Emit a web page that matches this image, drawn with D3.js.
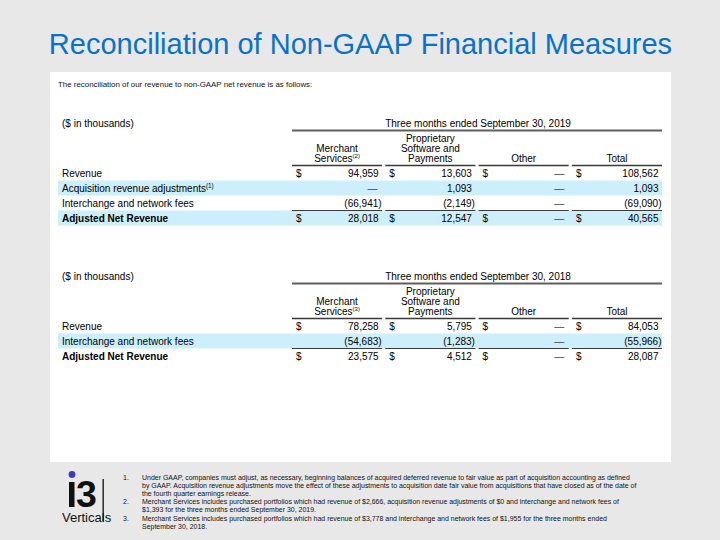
<!DOCTYPE html>
<html><head><meta charset="utf-8">
<script src="https://cdn.jsdelivr.net/npm/d3@7"></script>
<style>
html,body{margin:0;padding:0;background:#e8e8e8;}
svg{display:block;font-family:"Liberation Sans",Arial,Helvetica,sans-serif;}
</style></head>
<body>
<svg id="chart" width="720" height="540"></svg>
<script>
// ---------------- data ----------------
const title = "Reconciliation of Non-GAAP Financial Measures";
const intro = "The reconciliation of our revenue to non-GAAP net revenue is as follows:";
const unitsLabel = "($ in thousands)";
const columns = ["Merchant Services", "Proprietary Software and Payments", "Other", "Total"];
const headerLines = [["Merchant", "Services"], ["Proprietary", "Software and", "Payments"], ["Other"], ["Total"]];
const headerNotes2019 = ["2", null, null, null];
const headerNotes2018 = ["3", null, null, null];
const periods = ["Three months ended September 30, 2019", "Three months ended September 30, 2018"];

const rowLabels2019 = ["Revenue", "Acquisition revenue adjustments", "Interchange and network fees", "Adjusted Net Revenue"];
const rowNotes2019 = [null, "1", null, null];
const merchant2019 = [94959, 0, -66941, 28018];
const proprietary2019 = [13603, 1093, -2149, 12547];
const other2019 = [0, 0, 0, 0];
const total2019 = [108562, 1093, -69090, 40565];
const highlight2019 = [1, 3];

const rowLabels2018 = ["Revenue", "Interchange and network fees", "Adjusted Net Revenue"];
const rowNotes2018 = [null, null, null];
const merchant2018 = [78258, -54683, 23575];
const proprietary2018 = [5795, -1283, 4512];
const other2018 = [0, 0, 0];
const total2018 = [84053, -55966, 28087];
const highlight2018 = [1];

const footnoteNumbers = ["1.", "2.", "3."];
const footnoteLines = [
  ["Under GAAP, companies must adjust, as necessary, beginning balances of acquired deferred revenue to fair value as part of acquisition accounting as defined",
   "by GAAP. Acquisition revenue adjustments move the effect of these adjustments to acquisition date fair value from acquisitions that have closed as of the date of",
   "the fourth quarter earnings release."],
  ["Merchant Services includes purchased portfolios which had revenue of $2,666, acquisition revenue adjustments of $0 and interchange and network fees of",
   "$1,393 for the three months ended September 30, 2019."],
  ["Merchant Services includes purchased portfolios which had revenue of $3,778 and interchange and network fees of $1,955 for the three months ended",
   "September 30, 2018."]
];

// ---------------- drawing ----------------
const svg = d3.select("#chart");
svg.append("rect").attr("width", 720).attr("height", 540).attr("fill", "#e8e8e8");
svg.append("rect").attr("x", 50).attr("y", 72).attr("width", 621).attr("height", 390).attr("fill", "#ffffff");

svg.append("text").attr("x", 360.5).attr("y", 54).attr("text-anchor", "middle")
  .attr("font-size", 29).attr("fill", "#0a72c6").text(title);

svg.append("text").attr("x", 58).attr("y", 87).attr("font-size", 7.9).attr("fill", "#111").text(intro);

const fmt = d3.format(",");
const xCol = d3.scaleBand().domain(columns).range([292, 662]).paddingInner(0.034).paddingOuter(0);

function drawTable(offset, period, headerNotes, labels, notes, series, highlight) {
  const g = svg.append("g").attr("transform", `translate(0,${offset})`);
  const n = labels.length;
  const yRow = d3.scaleBand().domain(d3.range(n)).range([165.5, 165.5 + 15 * n]).padding(0);

  // highlight bands
  g.selectAll("rect.hl").data(highlight).join("rect").attr("class", "hl")
    .attr("x", 58).attr("width", 604).attr("y", d => yRow(d)).attr("height", yRow.bandwidth())
    .attr("fill", "#cdeefb");

  g.append("text").attr("x", 62).attr("y", 127).attr("font-size", 10).attr("fill", "#000").text(unitsLabel);
  g.append("text").attr("x", (xCol.range()[0] + xCol.range()[1]) / 2 + 1).attr("y", 127)
    .attr("text-anchor", "middle").attr("font-size", 10).attr("fill", "#000").text(period);
  g.append("line").attr("x1", xCol.range()[0]).attr("x2", xCol.range()[1]).attr("y1", 130.5).attr("y2", 130.5)
    .attr("stroke", "#5f5f5f").attr("stroke-width", 2);

  // headers
  columns.forEach((c, i) => {
    const lines = headerLines[i];
    const cx = xCol(c) + xCol.bandwidth() / 2;
    lines.forEach((ln, j) => {
      const base = 161.5 - (lines.length - 1 - j) * 9.6;
      const t = g.append("text").attr("x", cx).attr("y", base).attr("text-anchor", "middle")
        .attr("font-size", 10).attr("fill", "#000");
      t.append("tspan").text(ln);
      if (j === lines.length - 1 && headerNotes[i]) {
        t.append("tspan").attr("font-size", 6).attr("dy", -3.5).text(`(${headerNotes[i]})`);
      }
    });
    g.append("line").attr("x1", xCol(c)).attr("x2", xCol(c) + xCol.bandwidth())
      .attr("y1", 165.5).attr("y2", 165.5).attr("stroke", "#3a3a3a").attr("stroke-width", 1.3);
    g.append("line").attr("x1", xCol(c)).attr("x2", xCol(c) + xCol.bandwidth())
      .attr("y1", yRow(n - 1)).attr("y2", yRow(n - 1)).attr("stroke", "#3a3a3a").attr("stroke-width", 1.1);
  });

  // row labels
  labels.forEach((lab, r) => {
    const t = g.append("text").attr("x", 62).attr("y", yRow(r) + 11).attr("font-size", 10).attr("fill", "#000")
      .attr("font-weight", r === n - 1 ? "bold" : "normal");
    t.append("tspan").text(lab);
    if (notes[r]) t.append("tspan").attr("font-size", 6.3).attr("dy", -4).text(`(${notes[r]})`);
  });

  // values
  columns.forEach((c, i) => {
    const vals = series[i];
    const right = xCol(c) + xCol.bandwidth();
    vals.forEach((v, r) => {
      const y = yRow(r) + 11;
      if (r === 0 || r === n - 1) {
        g.append("text").attr("x", xCol(c) + 4).attr("y", y).attr("font-size", 10).attr("fill", "#000").text("$");
      }
      let s, xr, col = "#000";
      if (v === 0) { s = "\u2014"; xr = right - 4.5; col = "#444"; }
      else if (v < 0) { s = "(" + fmt(-v) + ")"; xr = right - 0.5; }
      else { s = fmt(v); xr = right - 3.5; }
      g.append("text").attr("x", xr).attr("y", y).attr("text-anchor", "end").attr("font-size", 10)
        .attr("fill", col).text(s);
    });
  });
}

drawTable(0, periods[0], headerNotes2019, rowLabels2019, rowNotes2019,
  [merchant2019, proprietary2019, other2019, total2019], highlight2019);
drawTable(153, periods[1], headerNotes2018, rowLabels2018, rowNotes2018,
  [merchant2018, proprietary2018, other2018, total2018], highlight2018);

// ---------------- logo ----------------
const logo = svg.append("g");
logo.append("circle").attr("cx", 72).attr("cy", 474.5).attr("r", 3.4).attr("fill", "#3a3cc4");
logo.append("rect").attr("x", 69).attr("y", 482).attr("width", 5.5).attr("height", 25).attr("fill", "#111");
logo.append("text").attr("x", 76).attr("y", 507).attr("font-size", 37.5).attr("font-weight", "bold")
  .attr("fill", "#111").text("3");
const vt = logo.append("text").attr("x", 62).attr("y", 521.5).attr("font-size", 13).attr("fill", "#111").text("Verticals");
let lx = 103;
try { const p = vt.node().getStartPositionOfChar(7); const e = vt.node().getEndPositionOfChar(7); lx = (p.x + e.x) / 2; } catch (e) {}
logo.append("line").attr("x1", lx).attr("x2", lx).attr("y1", 479).attr("y2", 521.5).attr("stroke", "#111").attr("stroke-width", 1.3);

// ---------------- footnotes ----------------
const fn = svg.append("g");
const lineYs = [[480, 488, 496], [504, 512], [520.5, 528.5]];
let fs = 6.6;
const probe = fn.append("text").attr("font-size", fs).text(footnoteLines[0][0]);
const w = probe.node().getComputedTextLength();
if (w > 0) fs = fs * 488 / w;
probe.remove();
footnoteLines.forEach((lines, i) => {
  fn.append("text").attr("x", 123).attr("y", lineYs[i][0]).attr("font-size", fs).attr("fill", "#111").text(footnoteNumbers[i]);
  lines.forEach((ln, j) => {
    fn.append("text").attr("x", 142).attr("y", lineYs[i][j]).attr("font-size", fs).attr("fill", "#111").text(ln);
  });
});
</script>
</body></html>
